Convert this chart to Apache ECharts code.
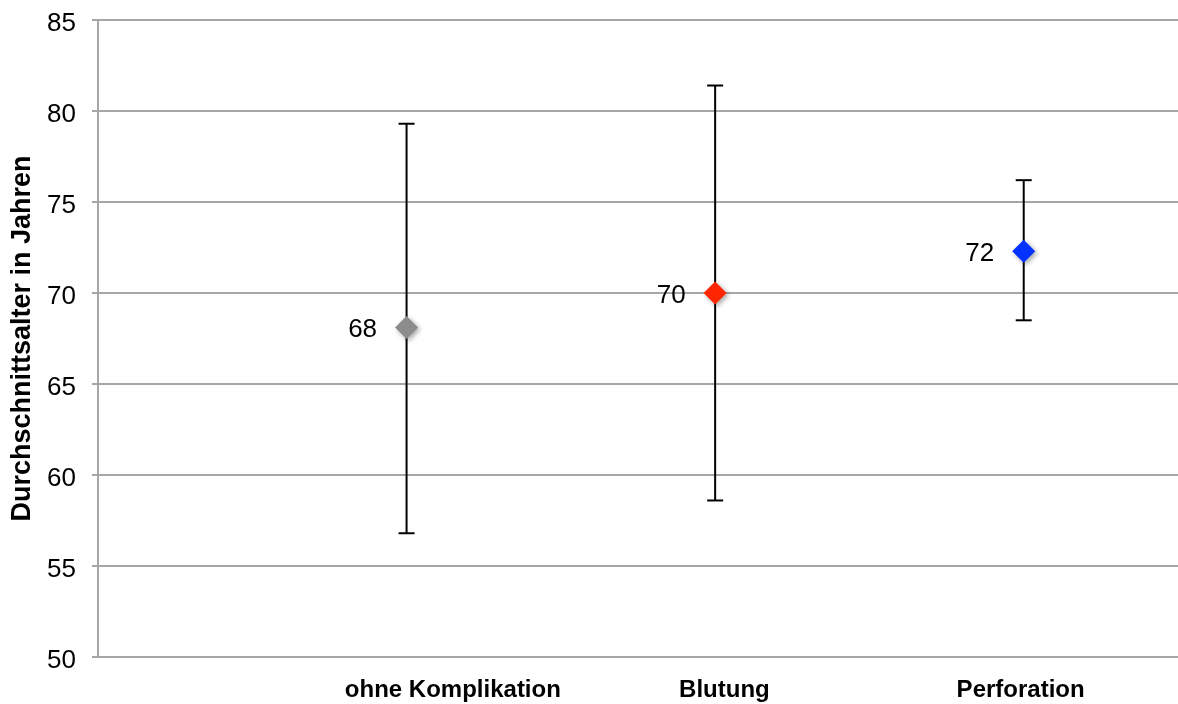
<!DOCTYPE html>
<html>
<head>
<meta charset="utf-8">
<script src="https://cdn.jsdelivr.net/npm/echarts@6/dist/echarts.min.js"></script>
<style>
  html, body { margin: 0; padding: 0; background: #fff; }
  #chart { width: 1178px; height: 704px; }
</style>
</head>
<body>
<div id="chart"></div>
<script>
const categories = ['ohne Komplikation', 'Blutung', 'Perforation']
const xPositions = [1, 2, 3]
const meanAge = [68.1, 70.0, 72.3]
const lowerAge = [56.8, 58.6, 68.5]
const upperAge = [79.3, 81.4, 76.2]
const pointColors = ['#8c8c8c', '#ff2600', '#0433ff']
const yTicks = [50, 55, 60, 65, 70, 75, 80, 85]

const chart = echarts.init(document.getElementById('chart'))

const gray = '#a6a6a6'
const font = 'Liberation Sans, Arial, Helvetica, sans-serif'

const errorData = xPositions.map((x, i) => [x, lowerAge[i], upperAge[i]])
const pointData = xPositions.map((x, i) => ({
  value: [x, meanAge[i]],
  itemStyle: { color: pointColors[i] }
}))

const option = {
  animation: false,
  grid: { left: 98, right: 0, top: 20, bottom: 47, outerBoundsMode: 'none' },
  xAxis: {
    type: 'value',
    min: 0,
    max: 3.5,
    splitLine: { show: false },
    axisLine: { show: true, lineStyle: { color: gray, width: 2 } },
    axisTick: { show: false },
    axisLabel: {
      customValues: [1.15, 2.03, 2.99],
      margin: 21,
      fontFamily: font,
      fontSize: 24,
      fontWeight: 'bold',
      color: '#000',
      formatter: v => categories[Math.round(v) - 1]
    }
  },
  yAxis: {
    type: 'value',
    min: 50,
    max: 85,
    interval: 5,
    name: 'Durchschnittsalter in Jahren',
    nameLocation: 'middle',
    nameGap: 62,
    nameRotate: 90,
    nameTextStyle: { fontFamily: font, fontSize: 27, fontWeight: 'bold', color: '#000' },
    axisLine: { show: true, lineStyle: { color: gray, width: 2 } },
    axisTick: { show: true, inside: false, length: 6, lineStyle: { color: gray, width: 2 } },
    splitLine: { show: true, lineStyle: { color: gray, width: 2 } },
    axisLabel: {
      margin: 22,
      verticalAlign: 'top',
      lineHeight: 7,
      fontFamily: font,
      fontSize: 26,
      color: '#000',
      formatter: v => (yTicks.includes(v) ? String(v) : '')
    }
  },
  series: [
    {
      type: 'custom',
      data: errorData,
      z: 2,
      renderItem: (params, api) => {
        const x = api.value(0)
        const lo = api.coord([x, api.value(1)])
        const hi = api.coord([x, api.value(2)])
        const cap = 8
        const style = { stroke: '#000', lineWidth: 2 }
        return {
          type: 'group',
          children: [
            { type: 'line', shape: { x1: lo[0], y1: lo[1], x2: hi[0], y2: hi[1] }, style },
            { type: 'line', shape: { x1: lo[0] - cap, y1: lo[1], x2: lo[0] + cap, y2: lo[1] }, style },
            { type: 'line', shape: { x1: hi[0] - cap, y1: hi[1], x2: hi[0] + cap, y2: hi[1] }, style }
          ]
        }
      }
    },
    {
      type: 'scatter',
      data: pointData,
      z: 3,
      symbol: 'diamond',
      symbolSize: 23,
      itemStyle: {
        opacity: 1,
        shadowBlur: 5,
        shadowOffsetX: 2,
        shadowOffsetY: 2,
        shadowColor: 'rgba(0,0,0,0.35)'
      },
      label: {
        show: true,
        position: 'left',
        distance: 18,
        verticalAlign: 'top',
        lineHeight: 5,
        fontFamily: font,
        fontSize: 26,
        color: '#000',
        formatter: p => Math.round(p.value[1])
      }
    }
  ]
}

chart.setOption(option)
</script>
</body>
</html>
